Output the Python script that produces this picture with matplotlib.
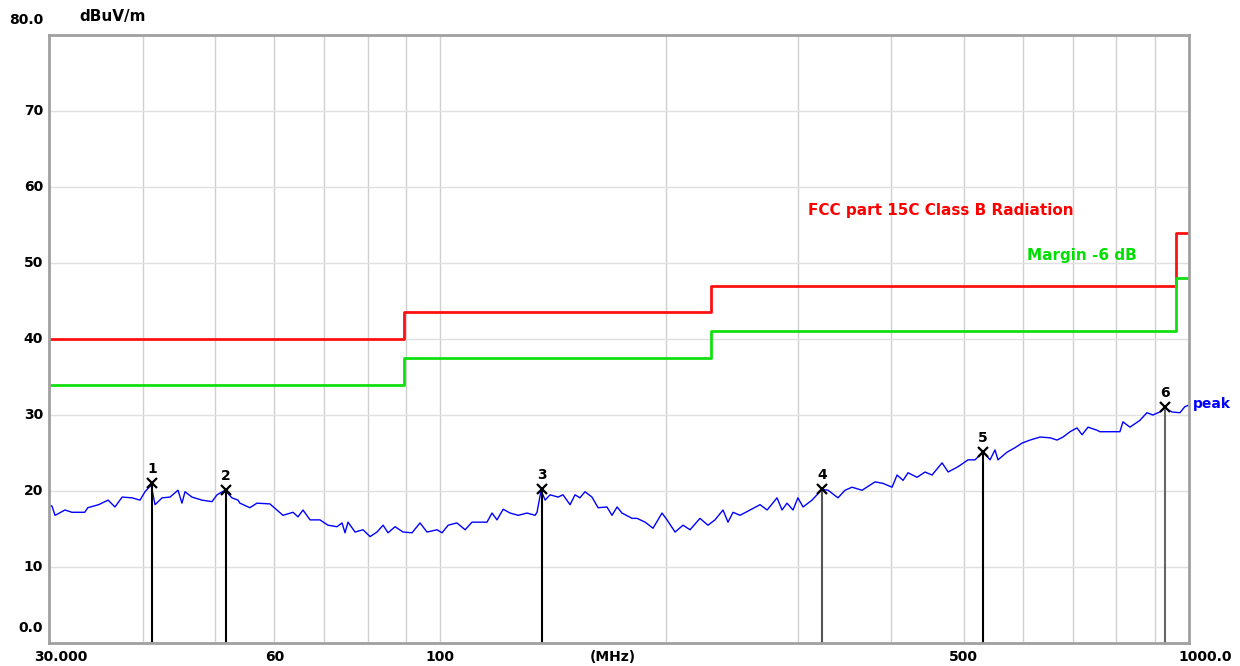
import matplotlib
matplotlib.use('Agg')
from matplotlib import pyplot as plt
from matplotlib import transforms as mtrans


# peak trace (MHz, dBuV/m)
freq = [30.0, 30.28, 30.56, 30.84, 31.51, 32.19, 33.49, 33.80, 34.95, 35.98,
        36.75, 37.57, 38.73, 39.69, 40.30, 41.07, 41.57, 42.48, 43.53, 44.61,
        45.16, 45.58, 46.57, 48.02, 49.53, 50.30, 51.55, 52.67, 53.65, 53.97,
        55.65, 56.87, 59.19, 60.49, 61.62, 63.55, 64.53, 65.53, 66.96, 69.04,
        70.76, 72.76, 73.89, 74.57, 75.26, 76.91, 78.82, 80.53, 82.28, 83.83,
        85.12, 86.98, 89.14, 91.63, 93.92, 95.96, 98.97, 100.5, 102.4, 105.2,
        107.9, 110.2, 115.4, 117.2, 119.0, 121.3, 123.9, 127.0, 130.5, 133.8,
        134.6, 136.3, 138.0, 140.1, 143.6, 145.8, 149.0, 151.3, 153.6, 156.0,
        159.4, 162.4, 166.9, 169.5, 172.2, 174.8, 180.3, 183.1, 187.7, 192.3,
        197.7, 200.8, 205.8, 210.9, 215.5, 222.2, 227.7, 232.7, 238.5, 242.2,
        246.0, 251.3, 259.2, 267.3, 273.2, 281.6, 286.0, 290.4, 295.8, 300.3,
        305.1, 313.6, 318.4, 323.4, 329.5, 339.7, 347.1, 354.7, 365.8, 380.7,
        390.2, 401.2, 407.4, 415.0, 421.4, 433.2, 444.0, 453.6, 467.9, 476.7,
        491.5, 506.8, 517.9, 530.8, 542.2, 550.6, 555.7, 571.2, 585.6, 598.3,
        613.2, 632.4, 652.3, 666.4, 678.7, 693.6, 708.6, 719.7, 733.0, 753.3,
        760.3, 808.6, 816.1, 833.9, 859.9, 878.6, 895.0, 914.4, 928.7, 948.9,
        972.5, 987.4, 1000.0]
level = [18.2, 18.0, 16.8, 17.0, 17.5, 17.2, 17.2, 17.8, 18.2, 18.8,
         17.9, 19.2, 19.1, 18.8, 19.9, 20.8, 18.2, 19.1, 19.2, 20.1,
         18.4, 19.9, 19.2, 18.8, 18.6, 19.5, 20.1, 19.1, 18.8, 18.4,
         17.8, 18.4, 18.3, 17.5, 16.8, 17.2, 16.6, 17.5, 16.2, 16.2,
         15.5, 15.3, 15.8, 14.5, 15.9, 14.6, 14.9, 14.0, 14.6, 15.5,
         14.5, 15.3, 14.6, 14.5, 15.8, 14.6, 14.9, 14.5, 15.5, 15.8,
         14.9, 15.9, 15.9, 17.1, 16.2, 17.6, 17.1, 16.8, 17.1, 16.8,
         17.2, 20.1, 18.8, 19.5, 19.2, 19.5, 18.2, 19.5, 19.1, 19.9,
         19.2, 17.8, 17.9, 16.8, 17.9, 17.1, 16.4, 16.4, 15.9, 15.1,
         17.1, 16.2, 14.6, 15.5, 14.9, 16.4, 15.5, 16.2, 17.5, 15.9,
         17.2, 16.8, 17.5, 18.2, 17.5, 19.1, 17.5, 18.4, 17.5, 19.1,
         17.9, 18.8, 19.5, 20.2, 20.1, 19.1, 20.1, 20.5, 20.1, 21.2,
         21.0, 20.5, 22.1, 21.4, 22.4, 21.8, 22.5, 22.1, 23.7, 22.5,
         23.2, 24.1, 24.1, 25.2, 24.1, 25.4, 24.1, 25.1, 25.7, 26.3,
         26.7, 27.1, 27.0, 26.7, 27.1, 27.8, 28.3, 27.4, 28.4, 28.0,
         27.8, 27.8, 29.1, 28.4, 29.3, 30.3, 30.0, 30.4, 30.9, 30.4,
         30.3, 31.1, 31.3]

# limit line (stepped) and -6 dB margin
limit_edges = [30, 89.5, 230, 960, 1000]
limit_levels = [40.0, 43.5, 47.0, 54.0]
margin_levels = [34.0, 37.5, 41.0, 48.0]

# peak markers
mk_freq = [41.2, 51.7, 136.7, 323.4, 531.0, 928.7]
mk_level = [21.0, 20.1, 20.3, 20.3, 25.1, 31.0]
mk_color = ['black', 'black', 'black', '#555555', 'black', '#666666']

grid_x = [40, 50, 60, 70, 80, 90, 100, 200, 300, 400, 500, 600, 700, 800, 900]
grid_y = [10, 20, 30, 40, 50, 60, 70]
ylabels = ['0.0', '10', '20', '30', '40', '50', '60', '70', '80.0']
xlabels = {60: '60', 100: '100', 500: '500'}


def steps(edges, vals):
    xs, ys = [], []
    for i, v in enumerate(vals):
        xs += [edges[i], edges[i + 1]]
        ys += [v, v]
    return xs, ys


fig = plt.figure(figsize=(12.4, 6.66), dpi=100)
ax = fig.add_axes([49 / 1240, 23 / 666, 1140 / 1240, 608 / 666])
ax.set_xscale('log')
ax.set_xlim(30, 1000)
ax.set_ylim(0, 80)
ax.set_xticks([])
ax.set_yticks([])
ax.minorticks_off()
for s in ax.spines.values():
    s.set_color('#a0a0a0')
    s.set_linewidth(2)

for g in grid_x:
    ax.axvline(g, color='#d0d0d0', lw=1, zorder=0)
for g in grid_y:
    ax.axhline(g, color='#e0e0e0', lw=1, zorder=0)

xs, ys = steps(limit_edges, limit_levels)
ax.plot(xs, ys, color='#ff1010', lw=2)
xs, ys = steps(limit_edges, margin_levels)
ax.plot(xs, ys, color='#10e010', lw=2)

ax.plot(freq, level, color='#0000ff', lw=1.0)

for i, (f, l) in enumerate(zip(mk_freq, mk_level)):
    ax.plot([f, f], [0, l], color=mk_color[i], lw=1.5)
    ax.plot(f, l, marker='x', color='black', ms=7, mew=1.6)
    ax.annotate(str(i + 1), (f, l), xytext=(0, 5), textcoords='offset points',
                ha='center', va='bottom', fontsize=10, fontweight='bold', color='black')

bold = dict(fontsize=10, fontweight='bold', color='black')
ytr = ax.get_yaxis_transform()
for i, lab in enumerate(ylabels):
    dy = 0
    if i == 0 or i == 8:
        dy = 15
    t = mtrans.offset_copy(ytr, fig=fig, x=-6, y=dy, units='dots')
    ax.text(0, i * 10, lab, transform=t, ha='right', va='center', **bold)

xtr = ax.get_xaxis_transform()
tx = mtrans.offset_copy(xtr, fig=fig, x=0, y=-14, units='dots')
ax.text(30, 0, '30.000', transform=mtrans.offset_copy(xtr, fig=fig, x=-15, y=-14, units='dots'),
        ha='left', va='center', **bold)
for f, lab in xlabels.items():
    ax.text(f, 0, lab, transform=tx, ha='center', va='center', **bold)
ax.text(1000, 0, '1000.0', transform=mtrans.offset_copy(xtr, fig=fig, x=43, y=-14, units='dots'),
        ha='right', va='center', **bold)
ax.text(0.495, -14 / 608, '(MHz)', transform=ax.transAxes, ha='center', va='center', **bold)

ax.text(0.027, 1.0 + 18 / 608, 'dBuV/m', transform=ax.transAxes, ha='left', va='center',
        fontsize=11, fontweight='bold')
ax.text(0.666, 0.711, 'FCC part 15C Class B Radiation', transform=ax.transAxes,
        ha='left', va='center', fontsize=11, fontweight='bold', color='#ff0000')
ax.text(0.858, 0.637, 'Margin -6 dB', transform=ax.transAxes,
        ha='left', va='center', fontsize=11, fontweight='bold', color='#00e000')
ax.text(1.003, 0.393, 'peak', transform=ax.transAxes,
        ha='left', va='center', fontsize=10, color='#0000ff', fontweight='bold')

fig.savefig('out.png', dpi=100)
